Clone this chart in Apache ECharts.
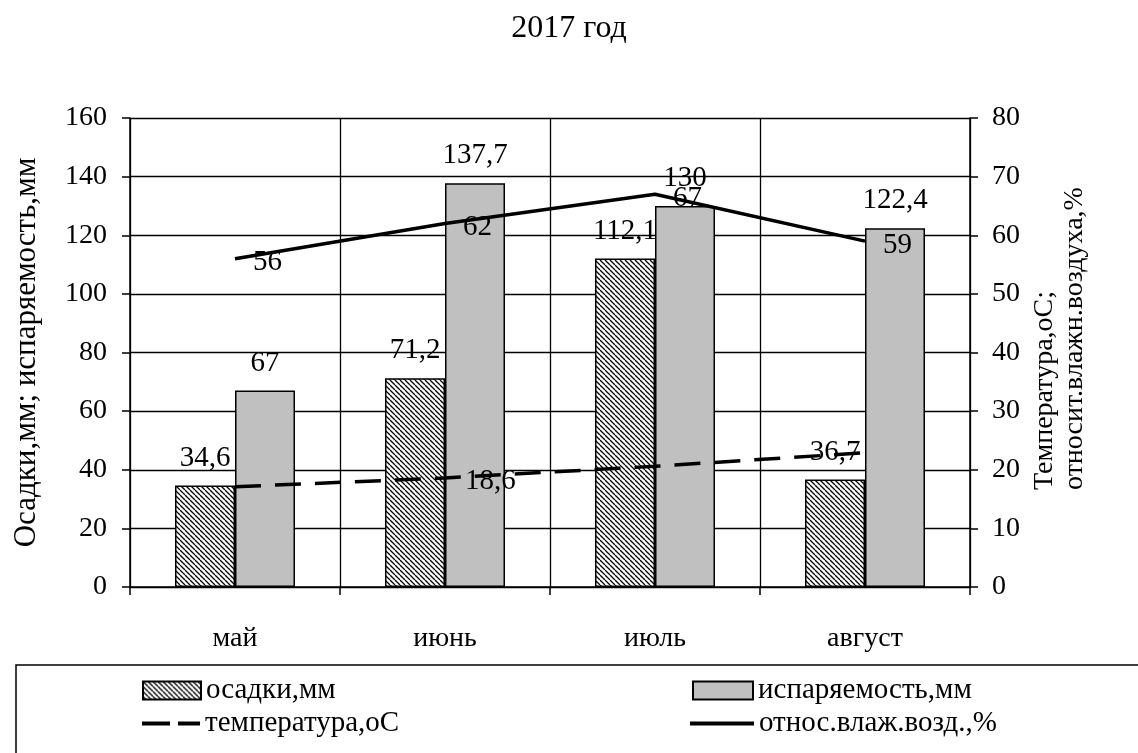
<!DOCTYPE html>
<html>
<head>
<meta charset="utf-8">
<script src="https://cdn.jsdelivr.net/npm/echarts@6/dist/echarts.min.js"></script>
<style>
html,body{margin:0;padding:0;background:#fff;}
#c{width:1138px;height:753px;}
</style>
</head>
<body>
<div id="c"></div>
<script>
const categories = ['май', 'июнь', 'июль', 'август'];
const precipitation = [34.6, 71.2, 112.1, 36.7];
const evaporation = [67, 137.7, 130, 122.4];
const temperature = [17.1, 18.6, 20.6, 22.9];
const humidity = [56, 62, 67, 59];
const leftTicks = { min: 0, max: 160, interval: 20 };
const rightTicks = { min: 0, max: 80, interval: 10 };
const seriesNames = ['осадки,мм', 'испаряемость,мм', 'температура,оС', 'относ.влаж.возд.,%'];
const titleText = '2017 год';
const leftAxisName = 'Осадки,мм; испаряемость,мм';
const rightAxisName = 'Температура,оС;\nотносит.влажн.воздуха,%';
const tempLabelShown = [false, true, false, false];

const FONT = 'Liberation Serif';

// hatch pattern
const tile = document.createElement('canvas');
tile.width = 5; tile.height = 5;
const ctx = tile.getContext('2d');
ctx.fillStyle = '#fff';
ctx.fillRect(0, 0, 5, 5);
ctx.strokeStyle = '#000';
ctx.lineWidth = 1.25;
for (const k of [-5, 0, 5]) {
  ctx.beginPath();
  ctx.moveTo(k, 0);
  ctx.lineTo(k + 5, 5);
  ctx.stroke();
}
const hatch = { image: tile, repeat: 'repeat' };

const fmt = v => String(v).replace('.', ',');

const chart = echarts.init(document.getElementById('c'), null, { renderer: 'canvas' });

const legendText = { fontFamily: FONT, fontSize: 29, color: '#000' };

chart.setOption({
  animation: false,
  backgroundColor: '#fff',
  title: {
    text: titleText, left: 'center', top: 8,
    textStyle: { fontFamily: FONT, fontSize: 32, fontWeight: 'normal', color: '#000' }
  },
  legend: [
    { data: [{ name: seriesNames[0], icon: 'rect' }], left: 137, top: 671, itemWidth: 58, itemHeight: 18, itemGap: 5,
      textStyle: legendText, selectedMode: false },
    { data: [{ name: seriesNames[1], icon: 'rect' }], left: 687, top: 671, itemWidth: 60, itemHeight: 18, itemGap: 5,
      textStyle: legendText, selectedMode: false },
    { data: [{ name: seriesNames[2], icon: 'path://M0,0h28v4h-28z M36,0h22v4h-22z' }], left: 137, top: 704,
      itemWidth: 58, itemHeight: 4, itemGap: 5, textStyle: legendText, selectedMode: false,
      itemStyle: { borderWidth: 0 } },
    { data: [{ name: seriesNames[3], icon: 'path://M0,0h64v4h-64z' }], left: 685, top: 704,
      itemWidth: 64, itemHeight: 4, itemGap: 5, textStyle: legendText, selectedMode: false,
      itemStyle: { borderWidth: 0 } }
  ],
  graphic: [{
    type: 'rect', shape: { x: 16, y: 665, width: 1140, height: 100 },
    style: { fill: 'none', stroke: '#000', lineWidth: 1.5 }, z: -1, silent: true
  }, {
    type: 'text', x: 1060, y: 490, rotation: Math.PI / 2,
    style: { text: rightAxisName, fontFamily: FONT, fontSize: 28, lineHeight: 30,
      fill: '#000', align: 'left', verticalAlign: 'middle' }
  }],
  grid: { left: 130, right: 168, top: 118, bottom: 166 },
  xAxis: {
    type: 'category', data: categories, boundaryGap: true,
    axisLine: { lineStyle: { color: '#000', width: 1.5 } },
    axisTick: { show: true, length: 8, lineStyle: { color: '#000', width: 1.5 } },
    axisLabel: { margin: 38, fontFamily: FONT, fontSize: 28, color: '#000' },
    splitLine: { show: true, lineStyle: { color: '#000', width: 1.3 } }
  },
  yAxis: [{
    type: 'value', min: leftTicks.min, max: leftTicks.max, interval: leftTicks.interval,
    name: leftAxisName, nameLocation: 'middle', nameRotate: 90, nameGap: 88,
    nameTextStyle: { fontFamily: FONT, fontSize: 31, color: '#000' },
    axisLine: { show: true, lineStyle: { color: '#000', width: 1.5 } },
    axisTick: { show: true, length: 8, lineStyle: { color: '#000', width: 1.5 } },
    axisLabel: { margin: 23, fontFamily: FONT, fontSize: 28, color: '#000' },
    splitLine: { show: true, lineStyle: { color: '#000', width: 1.3 } }
  }, {
    type: 'value', position: 'right', min: rightTicks.min, max: rightTicks.max, interval: rightTicks.interval,
    axisLine: { show: true, lineStyle: { color: '#000', width: 1.5 } },
    axisTick: { show: true, length: 8, lineStyle: { color: '#000', width: 1.5 } },
    axisLabel: { margin: 22, fontFamily: FONT, fontSize: 28, color: '#000' },
    splitLine: { show: false }
  }],
  series: [{
    name: seriesNames[0], type: 'bar', data: precipitation, yAxisIndex: 0,
    barWidth: 60, barGap: '0%',
    itemStyle: { color: hatch, borderColor: '#000', borderWidth: 1.5 },
    label: { show: true, position: 'top', distance: 13, formatter: p => fmt(p.value),
      fontFamily: FONT, fontSize: 29, color: '#000' },
    z: 2
  }, {
    name: seriesNames[1], type: 'bar', data: evaporation, yAxisIndex: 0,
    barWidth: 60, barGap: '0%',
    itemStyle: { color: '#c0c0c0', borderColor: '#000', borderWidth: 1.5 },
    label: { show: true, position: 'top', distance: 13, formatter: p => fmt(p.value),
      fontFamily: FONT, fontSize: 29, color: '#000' },
    z: 2
  }, {
    name: seriesNames[2], type: 'line', data: temperature.map((v, i) => ({
      value: v, label: { show: tempLabelShown[i] }
    })), yAxisIndex: 1,
    symbol: 'circle', symbolSize: 0.01, showSymbol: true,
    lineStyle: { color: '#000', width: 3.5, type: [26, 14] },
    itemStyle: { color: '#000', borderWidth: 0 },
    label: { position: 'right', distance: 20, offset: [0, 3], formatter: p => fmt(p.value),
      fontFamily: FONT, fontSize: 29, color: '#000' },
    z: 5
  }, {
    name: seriesNames[3], type: 'line', data: humidity, yAxisIndex: 1,
    symbol: 'circle', symbolSize: 0.01, showSymbol: true,
    lineStyle: { color: '#000', width: 3.5 },
    itemStyle: { color: '#000', borderWidth: 0 },
    label: { show: true, position: 'right', distance: 18, offset: [0, 4], formatter: p => fmt(p.value),
      fontFamily: FONT, fontSize: 29, color: '#000' },
    z: 5
  }]
});
</script>
</body>
</html>
